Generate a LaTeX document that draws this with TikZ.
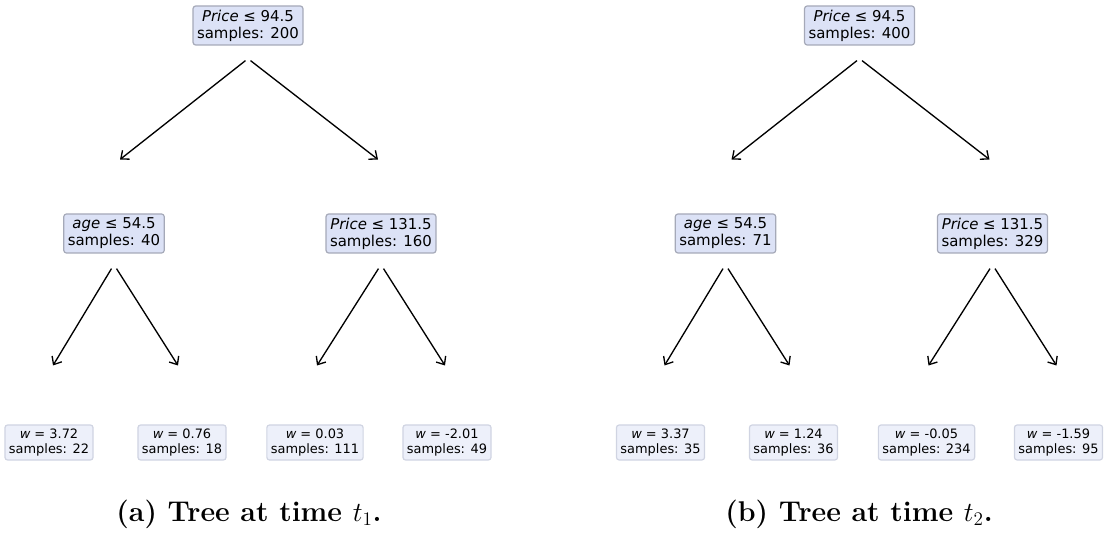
\documentclass[tikz,border=0pt]{standalone}
\usepackage{fontspec}
\newfontfamily\treefont{DejaVu Sans}
\usetikzlibrary{arrows.meta,positioning,calc}
\definecolor{splitfill}{RGB}{220,226,246}
\definecolor{splitline}{RGB}{165,169,184}
\definecolor{leaffill}{RGB}{237,240,250}
\definecolor{leafline}{RGB}{208,212,226}

\begin{document}
\begin{tikzpicture}[
  x=0.75pt, y=-0.75pt,
  >={Straight Barb[length=5pt,width=8.5pt]},
  split/.style = {rectangle, draw=splitline, fill=splitfill, rounded corners=2pt,
                  line width=0.9pt, align=center, inner xsep=3pt, inner ysep=0pt,
                  minimum height=29.25pt,
                  font=\treefont\fontsize{11.2}{12.9}\selectfont},
  leaf/.style  = {rectangle, draw=leafline, fill=leaffill, rounded corners=2pt,
                  line width=0.9pt, align=center, inner xsep=3pt, inner ysep=0pt,
                  minimum height=26.25pt,
                  font=\treefont\fontsize{9.7}{10.9}\selectfont},
  edge/.style  = {->, line width=1pt, draw=black},
  capt/.style  = {font=\fontsize{21.4}{25}\selectfont\bfseries}
]
\useasboundingbox (0,0) rectangle (1104,538);

%%% ---- TREE (a) ----
\node[split] (rootA)  at (248,25.5)             {\textit{Price} ≤ 94.5\\samples: 200};
\node[split] (ageA)   at ($(rootA)+(-134,208)$) {\textit{age} ≤ 54.5\\samples: 40};
\node[split] (priceA) at ($(rootA)+(133,208)$)  {\textit{Price} ≤ 131.5\\samples: 160};
\node[leaf]  (la1)    at ($(ageA)+(-65,209)$)   {\textit{w} = 3.72\\samples: 22};
\node[leaf]  (la2)    at ($(ageA)+(68,209)$)    {\textit{w} = 0.76\\samples: 18};
\node[leaf]  (la3)    at ($(priceA)+(-66,209)$) {\textit{w} = 0.03\\samples: 111};
\node[leaf]  (la4)    at ($(priceA)+(66,209)$)  {\textit{w} = -2.01\\samples: 49};

\draw[edge] ($(rootA.south)+(-2.5,15)$)  -- ($(ageA)+(6,-74)$);
\draw[edge] ($(rootA.south)+(2.5,15)$)   -- ($(priceA)+(-3,-74)$);
\draw[edge] ($(ageA.south)+(-2.5,15)$)   -- ($(la1)+(4,-77)$);
\draw[edge] ($(ageA.south)+(2.5,15)$)    -- ($(la2)+(-4,-77)$);
\draw[edge] ($(priceA.south)+(-2.5,15)$) -- ($(la3)+(2,-77)$);
\draw[edge] ($(priceA.south)+(2.5,15)$)  -- ($(la4)+(-2,-77)$);

\node[capt] (capA) at (249,514) {(a) Tree at time $t_1$.};

%%% ---- TREE (b) ----
\node[split] (rootB)  at (859.5,25.5)           {\textit{Price} ≤ 94.5\\samples: 400};
\node[split] (ageB)   at ($(rootB)+(-134,208)$) {\textit{age} ≤ 54.5\\samples: 71};
\node[split] (priceB) at ($(rootB)+(133,208)$)  {\textit{Price} ≤ 131.5\\samples: 329};
\node[leaf]  (lb1)    at ($(ageB)+(-65,209)$)   {\textit{w} = 3.37\\samples: 35};
\node[leaf]  (lb2)    at ($(ageB)+(68,209)$)    {\textit{w} = 1.24\\samples: 36};
\node[leaf]  (lb3)    at ($(priceB)+(-66,209)$) {\textit{w} = -0.05\\samples: 234};
\node[leaf]  (lb4)    at ($(priceB)+(66,209)$)  {\textit{w} = -1.59\\samples: 95};

\draw[edge] ($(rootB.south)+(-2.5,15)$)  -- ($(ageB)+(6,-74)$);
\draw[edge] ($(rootB.south)+(2.5,15)$)   -- ($(priceB)+(-3,-74)$);
\draw[edge] ($(ageB.south)+(-2.5,15)$)   -- ($(lb1)+(4,-77)$);
\draw[edge] ($(ageB.south)+(2.5,15)$)    -- ($(lb2)+(-4,-77)$);
\draw[edge] ($(priceB.south)+(-2.5,15)$) -- ($(lb3)+(2,-77)$);
\draw[edge] ($(priceB.south)+(2.5,15)$)  -- ($(lb4)+(-2,-77)$);

\node[capt] (capB) at (859,514) {(b) Tree at time $t_2$.};
\end{tikzpicture}
\end{document}
